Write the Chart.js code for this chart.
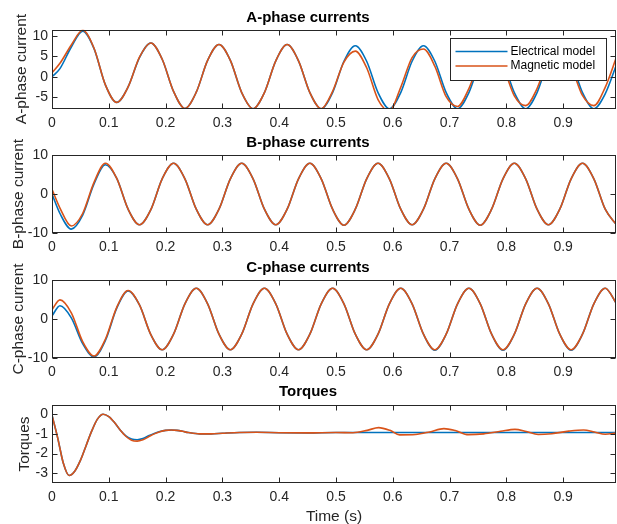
<!DOCTYPE html>
<html>
<head>
<meta charset="utf-8">
<title>Phase currents and torques</title>
<script src="https://cdn.jsdelivr.net/npm/chart.js@4.4.1/dist/chart.umd.min.js"></script>
<style>
  html, body { margin: 0; padding: 0; background: #fff; overflow: hidden; }
  canvas { position: absolute; left: 0; }
</style>
</head>
<body>
<canvas id="panel-a" width="617" height="130" style="top:0px;width:617px;height:130px"></canvas>
<canvas id="panel-b" width="617" height="125" style="top:130px;width:617px;height:125px"></canvas>
<canvas id="panel-c" width="617" height="125" style="top:255px;width:617px;height:125px"></canvas>
<canvas id="panel-t" width="617" height="144" style="top:380px;width:617px;height:144px"></canvas>
<script>
// Time samples (s) shared by the three phase-current panels
const tPhase = [0, 0.014, 0.034, 0.054, 0.074, 0.094, 0.114, 0.134, 0.154, 0.174, 0.194,
  0.214, 0.234, 0.254, 0.274, 0.294, 0.314, 0.334, 0.354, 0.374, 0.394,
  0.414, 0.434, 0.454, 0.474, 0.494, 0.514, 0.534, 0.554, 0.574, 0.594,
  0.614, 0.634, 0.654, 0.674, 0.694, 0.714, 0.734, 0.754, 0.774, 0.794,
  0.814, 0.834, 0.854, 0.874, 0.894, 0.914, 0.934, 0.954, 0.974, 0.994];

// A-phase currents
const aElectrical = [0, 2.0, 7.3, 11.2, 6.9, -2.0, -6.3, -2.5, 4.7, 8.3, 4.3,
  -3.6, -7.8, -3.8, 4.0, 7.9, 4.0, -3.9, -7.9, -3.9, 3.9,
  7.9, 3.9, -3.9, -7.9, -3.9, 3.8, 7.6, 3.8, -3.9, -7.9,
  -3.9, 3.8, 7.6, 3.8, -3.9, -7.9, -3.9, 3.8, 7.7, 3.8,
  -3.9, -7.9, -3.9, 3.9, 7.7, 3.8, -3.9, -7.9, -4.2, 3.0];
const aMagnetic = [1.0, 3.3, 7.8, 11.4, 7.0, -2.0, -6.3, -2.5, 4.8, 8.3, 4.3,
  -3.6, -7.8, -3.8, 4.0, 7.9, 4.0, -3.9, -7.9, -3.9, 3.9,
  7.9, 3.9, -3.9, -7.9, -3.6, 3.6, 6.3, 2.2, -5.6, -8.4,
  -2.6, 4.7, 6.8, 2.6, -4.9, -7.3, -2.9, 4.3, 7.0, 2.6,
  -4.7, -7.1, -2.9, 4.3, 7.0, 2.6, -4.6, -7.1, -2.6, 4.9];

// B-phase currents
const bElectrical = [0, -5.0, -9.0, -5.4, 2.6, 7.5, 4.0, -3.9, -7.9, -4.0, 3.9, 7.9,
  3.9, -3.9, -7.9, -3.9, 3.9, 7.9,
  3.9, -3.9, -7.9, -3.9, 3.9, 7.9,
  3.9, -3.9, -8.0, -3.9, 3.9, 7.9,
  3.9, -3.9, -7.9, -3.9, 3.9, 7.9,
  3.9, -3.9, -8.0, -3.9, 3.9, 7.9,
  3.9, -3.9, -7.9, -3.9, 3.9, 7.9,
  3.9, -3.9, -7.9];
const bMagnetic = [1.2, -3.6, -8.2, -5.0, 3.0, 7.9, 4.0, -3.9, -7.9, -4.0, 3.9, 7.9,
  3.9, -3.9, -7.9, -3.9, 3.9, 7.9,
  3.9, -3.9, -7.9, -3.9, 3.9, 7.9,
  3.9, -3.9, -8.0, -3.9, 3.9, 7.9,
  3.9, -3.9, -7.9, -3.9, 3.9, 7.9,
  3.9, -3.9, -8.0, -3.9, 3.9, 7.9,
  3.9, -3.9, -7.9, -3.9, 3.9, 7.9,
  3.9, -3.9, -7.9];

// C-phase currents
const cElectrical = [0.8, 3.4, 0.3, -6.3, -9.7, -5.5, 2.8, 7.2, 3.6, -4.0, -7.9, -3.9, 3.9, 7.9,
  3.9, -3.9, -7.9, -3.9, 3.9, 7.9,
  3.9, -3.9, -7.9, -3.9, 3.9, 7.9,
  3.9, -3.9, -7.9, -3.9, 3.9, 7.9,
  3.9, -3.9, -8.0, -3.9, 3.9, 7.9,
  3.9, -3.9, -8.0, -3.9, 3.9, 7.9,
  3.9, -3.9, -8.0, -3.9, 3.9, 7.9,
  3.9];
const cMagnetic = [2.4, 4.9, 1.6, -5.8, -9.5, -5.2, 3.0, 7.3, 3.6, -4.0, -7.9, -3.9, 3.9, 7.9,
  3.9, -3.9, -7.9, -3.9, 3.9, 7.9,
  3.9, -3.9, -7.9, -3.9, 3.9, 7.9,
  3.9, -3.9, -7.9, -3.9, 3.9, 7.9,
  3.9, -3.9, -7.9, -3.9, 3.9, 7.9,
  3.9, -3.9, -7.9, -3.9, 3.9, 7.9,
  3.9, -3.9, -7.9, -3.9, 3.9, 7.9,
  3.9];

// Torques
const tTorque = [0, 0.01, 0.02, 0.03, 0.04, 0.05, 0.06, 0.07, 0.08, 0.09,
  0.10, 0.11, 0.12, 0.13, 0.14, 0.15, 0.16, 0.17, 0.18, 0.19,
  0.20, 0.21, 0.22, 0.23, 0.24, 0.26, 0.28, 0.30, 0.33, 0.36,
  0.40, 0.45, 0.50, 0.53, 0.555, 0.575, 0.595, 0.612, 0.64, 0.665,
  0.69, 0.71, 0.733, 0.76, 0.79, 0.815, 0.835, 0.856, 0.88, 0.91,
  0.936, 0.955, 0.974, 0.993];
const torqueElectrical = [-0.05, -1.2, -2.5, -3.12, -2.9, -2.35, -1.6, -0.85, -0.25, 0.0,
  -0.12, -0.42, -0.8, -1.1, -1.26, -1.3, -1.24, -1.1, -0.98, -0.88,
  -0.82, -0.8, -0.82, -0.87, -0.93, -1.0, -1.0, -0.97, -0.93, -0.92,
  -0.94, -0.95, -0.93, -0.93, -0.93, -0.93, -0.93, -0.93, -0.93, -0.93,
  -0.93, -0.93, -0.93, -0.93, -0.93, -0.93, -0.93, -0.93, -0.93, -0.93,
  -0.93, -0.93, -0.93, -0.93];
const torqueMagnetic = [-0.05, -1.2, -2.5, -3.12, -2.9, -2.35, -1.6, -0.85, -0.25, 0.0,
  -0.12, -0.42, -0.8, -1.12, -1.32, -1.37, -1.3, -1.15, -1.0, -0.89,
  -0.82, -0.8, -0.82, -0.87, -0.93, -1.0, -1.0, -0.97, -0.93, -0.92,
  -0.94, -0.95, -0.93, -0.94, -0.82, -0.68, -0.82, -1.05, -1.03, -0.9,
  -0.73, -0.83, -1.04, -1.0, -0.87, -0.77, -0.88, -1.03, -0.99, -0.86,
  -0.8, -0.9, -1.02, -0.96];

// Tick labels
const xTicks = [0, 0.1, 0.2, 0.3, 0.4, 0.5, 0.6, 0.7, 0.8, 0.9];
const aTicks = [-5, 0, 5, 10];
const bcTicks = [-10, 0, 10];
const torqueTicks = [-3, -2, -1, 0];

const blue = '#0072BD';
const orange = '#D95319';
const axisColor = '#262626';

Chart.defaults.font.family = '"Liberation Sans", Arial, Helvetica, sans-serif';
Chart.defaults.color = axisColor;

function toPoints(xs, ys) {
    return xs.map((x, i) => ({ x: x, y: ys[i] }));
}

// MATLAB-like box with inward ticks on all four sides
const boxPlugin = {
    id: 'matlabBox',
    afterDatasetsDraw(chart) {
        const { ctx, chartArea: a, scales } = chart;
        const l = Math.round(a.left) + 0.5;
        const r = Math.round(a.right) - 0.5;
        const t = Math.round(a.top) + 0.5;
        const b = Math.round(a.bottom) - 0.5;
        ctx.save();
        ctx.strokeStyle = axisColor;
        ctx.lineWidth = 1;
        ctx.strokeRect(l, t, r - l, b - t);
        ctx.beginPath();
        scales.x.ticks.forEach(tk => {
            const px = Math.round(scales.x.getPixelForValue(tk.value)) + 0.5;
            ctx.moveTo(px, b); ctx.lineTo(px, b - 5);
            ctx.moveTo(px, t); ctx.lineTo(px, t + 5);
        });
        scales.y.ticks.forEach(tk => {
            const py = Math.round(scales.y.getPixelForValue(tk.value)) + 0.5;
            ctx.moveTo(l, py); ctx.lineTo(l + 5, py);
            ctx.moveTo(r, py); ctx.lineTo(r - 5, py);
        });
        ctx.stroke();
        ctx.restore();
    }
};

// Legend box drawn inside the first panel, over the lines
const insetLegend = {
    id: 'insetLegend',
    afterDatasetsDraw(chart) {
        const { ctx, chartArea: a } = chart;
        const w = 156, h = 42;
        const x = Math.round(a.right) - 10 - w + 0.5;
        const y = Math.round(a.top) + 8 + 0.5;
        ctx.save();
        ctx.fillStyle = '#fff';
        ctx.fillRect(x, y, w, h);
        ctx.strokeStyle = axisColor;
        ctx.lineWidth = 1;
        ctx.strokeRect(x, y, w, h);
        ctx.font = '12px "Liberation Sans", Arial, sans-serif';
        ctx.textBaseline = 'middle';
        chart.data.datasets.forEach((ds, i) => {
            const rowY = y + 13 + i * 14.5;
            ctx.strokeStyle = ds.borderColor;
            ctx.lineWidth = 1.6;
            ctx.beginPath();
            ctx.moveTo(x + 5, rowY);
            ctx.lineTo(x + 57, rowY);
            ctx.stroke();
            ctx.fillStyle = '#000';
            ctx.fillText(ds.label, x + 60, rowY);
        });
        ctx.restore();
    }
};

function makePanel(id, cfg) {
    const plugins = [boxPlugin];
    if (cfg.legend) plugins.push(insetLegend);
    return new Chart(document.getElementById(id), {
        type: 'line',
        data: {
            datasets: [{
                label: 'Electrical model',
                data: toPoints(cfg.t, cfg.electrical),
                borderColor: blue,
                order: 1
            }, {
                label: 'Magnetic model',
                data: toPoints(cfg.t, cfg.magnetic),
                borderColor: orange,
                order: 0
            }]
        },
        options: {
            responsive: false,
            animation: false,
            devicePixelRatio: 1,
            events: [],
            layout: { padding: { left: 0, right: 1, top: 0, bottom: 0 } },
            elements: {
                line: { borderWidth: 1.6, tension: 0.4, cubicInterpolationMode: 'monotone', fill: false },
                point: { radius: 0 }
            },
            plugins: {
                legend: { display: false },
                tooltip: { enabled: false },
                title: {
                    display: true,
                    text: cfg.title,
                    color: '#000',
                    font: { size: 15, weight: 'bold' },
                    padding: { top: cfg.titleTop, bottom: cfg.titleBottom }
                }
            },
            scales: {
                x: {
                    type: 'linear',
                    min: 0,
                    max: 0.993,
                    afterBuildTicks: s => { s.ticks = xTicks.map(v => ({ value: v })); },
                    afterFit: s => { s.height = cfg.xHeight; },
                    grid: { display: false, drawTicks: false },
                    border: { display: false },
                    ticks: { padding: 6, color: axisColor, font: { size: 14 }, maxRotation: 0, autoSkip: false, callback: v => String(v) },
                    title: cfg.xTitle
                        ? { display: true, text: cfg.xTitle, color: axisColor, font: { size: 15.5, lineHeight: 1 }, padding: { top: 0, bottom: 0 } }
                        : { display: false }
                },
                y: {
                    type: 'linear',
                    min: cfg.yMin,
                    max: cfg.yMax,
                    afterBuildTicks: s => { s.ticks = cfg.yTicks.map(v => ({ value: v })); },
                    afterFit: s => { s.width = 52; },
                    grid: { display: false, drawTicks: false },
                    border: { display: false },
                    ticks: { padding: 4, color: axisColor, font: { size: 14 }, autoSkip: false, callback: v => String(v) },
                    title: { display: true, text: cfg.yTitle, color: axisColor, font: { size: 15.5 }, padding: { top: cfg.yTitlePad, bottom: 0 } }
                }
            }
        },
        plugins: plugins
    });
}

makePanel('panel-a', {
    title: 'A-phase currents', titleTop: 8.5, titleBottom: 3,
    t: tPhase, electrical: aElectrical, magnetic: aMagnetic,
    yMin: -7.8, yMax: 11.6, yTicks: aTicks, yTitle: 'A-phase current', yTitlePad: 12.2,
    xHeight: 21.5, legend: true
});
makePanel('panel-b', {
    title: 'B-phase currents', titleTop: 3.5, titleBottom: 3.5,
    t: tPhase, electrical: bElectrical, magnetic: bMagnetic,
    yMin: -10, yMax: 10, yTicks: bcTicks, yTitle: 'B-phase current', yTitlePad: 9.2,
    xHeight: 22
});
makePanel('panel-c', {
    title: 'C-phase currents', titleTop: 3.5, titleBottom: 3.5,
    t: tPhase, electrical: cElectrical, magnetic: cMagnetic,
    yMin: -10, yMax: 10, yTicks: bcTicks, yTitle: 'C-phase current', yTitlePad: 9.2,
    xHeight: 22
});
makePanel('panel-t', {
    title: 'Torques', titleTop: 2.5, titleBottom: 4.5,
    t: tTorque, electrical: torqueElectrical, magnetic: torqueMagnetic,
    yMin: -3.5, yMax: 0.47, yTicks: torqueTicks, yTitle: 'Torques', yTitlePad: 15.7,
    xHeight: 41, xTitle: 'Time (s)'
});
</script>
</body>
</html>
